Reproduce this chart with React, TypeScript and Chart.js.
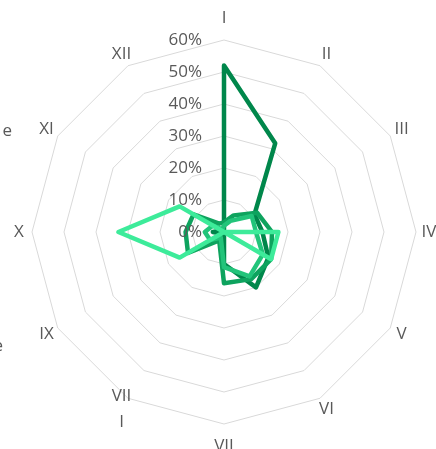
import { useEffect, useRef } from 'react';
import { Chart, registerables } from 'chart.js';

Chart.register(...registerables);

// ---- data ----
const categories = ['I', 'II', 'III', 'IV', 'V', 'VI', 'VII', 'VIII', 'IX', 'X', 'XI', 'XII'];
const categoryLabelLines = [['I'], ['II'], ['III'], ['IV'], ['V'], ['VI'], ['VII'], ['VII', 'I'], ['IX'], ['X'], ['XI'], ['XII']];
const tickValues = [0, 10, 20, 30, 40, 50, 60];

const seriesNames = ['Series 1', 'Series 2', 'Series 3', 'Series 4'];
const series1 = [52, 32, 11, 12, 16, 20, 10, 0, 1, 3.5, 1, 0];
const series2 = [3, 6, 12, 15, 17, 17, 16, 3, 13, 12, 11, 3];
const series3 = [2, 4, 10, 10, 14, 16, 11, 2, 5, 6, 4, 1];
const series4 = [0, 0, 0, 17, 17, 0, 0, 0, 16, 33, 16, 0];
const seriesColors = ['#00874B', '#0EA35E', '#22C47A', '#3DEB9A'];

const W = 436;
const H = 449;
const TEXT = '#595959';
const FONT = '"Open Sans", "Noto Sans", sans-serif';

const excelTextPlugin = {
  id: 'excelText',
  afterDatasetsDraw(chart: any) {
    const scale = chart.scales.r;
    const ctx = chart.ctx as CanvasRenderingContext2D;
    ctx.save();
    ctx.fillStyle = TEXT;
    ctx.font = `17px ${FONT}`;
    // tick labels, left of the vertical axis
    ctx.textAlign = 'right';
    ctx.textBaseline = 'middle';
    tickValues.forEach((v) => {
      const d = scale.getDistanceFromCenterForValue(v);
      ctx.fillText(`${v}%`, scale.xCenter - 22, scale.yCenter - d);
    });
    // category labels
    ctx.textAlign = 'center';
    const lineH = 26;
    categoryLabelLines.forEach((lines, i) => {
      const a = (Math.PI * 2 * i) / categories.length;
      const off = Math.abs(Math.cos(a)) > 0.99 ? 22 : 13;
      const p = scale.getPointPosition(i, scale.drawingArea + off);
      const top = p.y - ((lines.length - 1) * lineH) / 2;
      lines.forEach((t, k) => ctx.fillText(t, p.x, top + k * lineH));
    });
    // cut-off text at the left edge
    ctx.textAlign = 'right';
    ctx.fillText('e', 12, 131);
    ctx.fillText('e', 3, 346);
    ctx.restore();
  },
};

export default function App() {
  const ref = useRef<HTMLCanvasElement | null>(null);
  useEffect(() => {
    if (!ref.current) return;
    const allSeries = [series1, series2, series3, series4];
    const chart = new Chart(ref.current, {
      type: 'radar',
      data: {
        labels: categories,
        datasets: allSeries.map((s, i) => ({
          label: seriesNames[i],
          data: s,
          borderColor: seriesColors[i],
          backgroundColor: seriesColors[i],
          borderWidth: 4.5,
          borderJoinStyle: 'round' as const,
          pointRadius: 0,
          fill: false,
          tension: 0,
          order: allSeries.length - i,
        })),
      },
      options: {
        responsive: false,
        animation: false,
        devicePixelRatio: 1,
        layout: { padding: { left: 32, top: 40, right: 20, bottom: 25 } },
        plugins: { legend: { display: false }, tooltip: { enabled: false } },
        scales: {
          r: {
            min: 0,
            max: 60,
            ticks: { display: false, stepSize: 10 },
            pointLabels: { display: false },
            angleLines: { display: false },
            grid: { color: '#D9D9D9', lineWidth: 1 },
          },
        },
      },
      plugins: [excelTextPlugin],
    });
    return () => chart.destroy();
  }, []);
  return (
    <div style={{ position: 'fixed', left: 0, top: 0, width: W, height: H, background: '#fff' }}>
      <canvas ref={ref} width={W} height={H} style={{ display: 'block', width: W, height: H }} />
    </div>
  );
}
